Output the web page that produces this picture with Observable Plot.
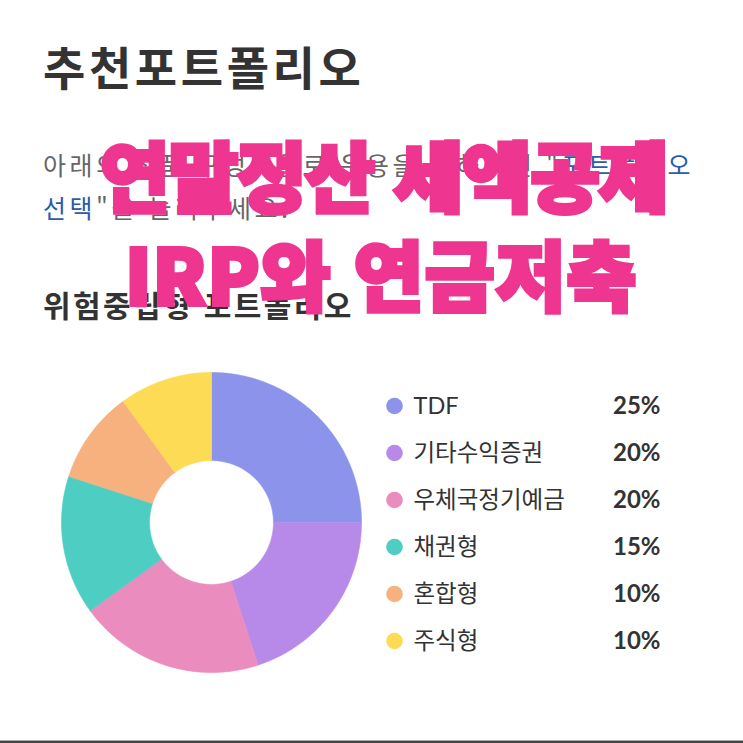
<!DOCTYPE html>
<html lang="ko">
<head>
<meta charset="utf-8">
<script src="https://cdn.jsdelivr.net/npm/d3@7"></script>
<script src="https://cdn.jsdelivr.net/npm/@observablehq/plot@0.6"></script>
<style>
  html, body { margin: 0; padding: 0; background: #fff; }
  #page { position: relative; width: 743px; height: 743px; overflow: hidden; background: #fff;
          font-family: "Noto Sans CJK KR", "Noto Sans", sans-serif; }
  .abs { position: absolute; white-space: nowrap; }
  #title { left: 43px; top: 42px; font-size: 46px; line-height: 46px; font-weight: 700; color: #333; letter-spacing: 3.6px; }
  #para { left: 43px; top: 143px; font-size: 25px; line-height: 43px; color: #666; letter-spacing: 3.5px; }
  #para .blue { color: #2d5ba7; }
  #sub { left: 43px; top: 289px; font-size: 30px; line-height: 30px; font-weight: 700; color: #333; letter-spacing: 2.4px; }
  .pink { font-size: 76px; line-height: 76px; font-weight: 900;
          color: #ee3590; -webkit-text-stroke: 4px #ee3590; paint-order: stroke fill; }
  #pink1 { left: 100px; top: 135px; letter-spacing: -1.5px; }
  #pink2 { left: 125px; top: 234px; letter-spacing: 1px; }
  #donut { left: 56px; top: 367px; }
  #legend { left: 380px; top: 381px; }
  #bottom { left: 0; top: 740px; width: 743px; height: 3px; background: #444; border-top: 1px solid #aaa; box-sizing: border-box; }
</style>
</head>
<body>
<div id="page">
  <div id="title" class="abs"></div>
  <div id="para" class="abs"></div>
  <div id="sub" class="abs"></div>
  <div id="donut" class="abs"></div>
  <div id="legend" class="abs"></div>
  <div id="pink1" class="abs pink"></div>
  <div id="pink2" class="abs pink"></div>
  <div id="bottom" class="abs"></div>
</div>
<script>
// ---- data ----
const titleText = "추천포트폴리오";
const paraLine1 = "아래의 상품 구성비율로 운용을 원하시면 \"";
const paraBlue1 = "포트폴리오";
const paraBlue2 = "선택";
const paraLine2 = "\"을 눌러주세요.";
const subtitleText = "위험중립형 포트폴리오";
const overlayLines = ["연말정산 세액공제", "IRP와 연금저축"];

const categories = ["TDF", "기타수익증권", "우체국정기예금", "채권형", "혼합형", "주식형"];
const shares = [25, 20, 20, 15, 10, 10];
const colors = ["#8b93ea", "#b78aea", "#eb8cbe", "#4ecdc3", "#f6b17f", "#fedb55"];

const data = categories.map((name, i) => ({name, value: shares[i]}));

// ---- text ----
document.getElementById("title").textContent = titleText;
const para = document.getElementById("para");
para.innerHTML = "";
para.append(paraLine1);
const b1 = document.createElement("span"); b1.className = "blue"; b1.textContent = paraBlue1; para.append(b1);
para.append(document.createElement("br"));
const b2 = document.createElement("span"); b2.className = "blue"; b2.textContent = paraBlue2; para.append(b2);
para.append(paraLine2);
document.getElementById("sub").textContent = subtitleText;
document.getElementById("pink1").textContent = overlayLines[0];
document.getElementById("pink2").textContent = overlayLines[1];

// ---- donut geometry from data ----
const total = d3.sum(shares);
const innerRatio = 0.413;
const pts = [];
let acc = 0;
data.forEach(d => {
  const a0 = acc / total * 2 * Math.PI;
  acc += d.value;
  const a1 = acc / total * 2 * Math.PI;
  const n = Math.max(2, Math.ceil((a1 - a0) / (Math.PI / 180)));
  for (let k = 0; k <= n; k++) {
    const a = a0 + (a1 - a0) * k / n;
    pts.push({name: d.name, x: Math.sin(a), y: Math.cos(a)});
  }
  for (let k = n; k >= 0; k--) {
    const a = a0 + (a1 - a0) * k / n;
    pts.push({name: d.name, x: innerRatio * Math.sin(a), y: innerRatio * Math.cos(a)});
  }
});

const colorScale = {type: "ordinal", domain: categories, range: colors};

const donut = Plot.plot({
  width: 310, height: 310, margin: 5,
  x: {domain: [-1, 1], axis: null},
  y: {domain: [-1, 1], axis: null},
  color: colorScale,
  marks: [
    Plot.line(pts, {x: "x", y: "y", z: "name", fill: "name", stroke: "name", strokeWidth: 0.6, curve: "linear-closed"})
  ]
});
document.getElementById("donut").append(donut);

const legend = Plot.plot({
  width: 300, height: 283, margin: 0,
  y: {type: "band", domain: categories, axis: null, padding: 0},
  color: colorScale,
  style: {fontFamily: "Lato, 'Noto Sans CJK KR', sans-serif", background: "transparent"},
  marks: [
    Plot.dot(data, {y: "name", fill: "name", r: 8.3, frameAnchor: "left", dx: 14}),
    Plot.text(data, {y: "name", text: "name", frameAnchor: "left", dx: 33, textAnchor: "start",
      fontSize: 23.5, fill: "#333", fontFamily: "Lato, 'Noto Sans CJK KR', sans-serif"}),
    Plot.text(data, {y: "name", text: d => d.value + "%", frameAnchor: "left", dx: 280, textAnchor: "end",
      fontSize: 24, fontWeight: 700, fill: "#333", fontFamily: "Lato, sans-serif"})
  ]
});
document.getElementById("legend").append(legend);
</script>
</body>
</html>
